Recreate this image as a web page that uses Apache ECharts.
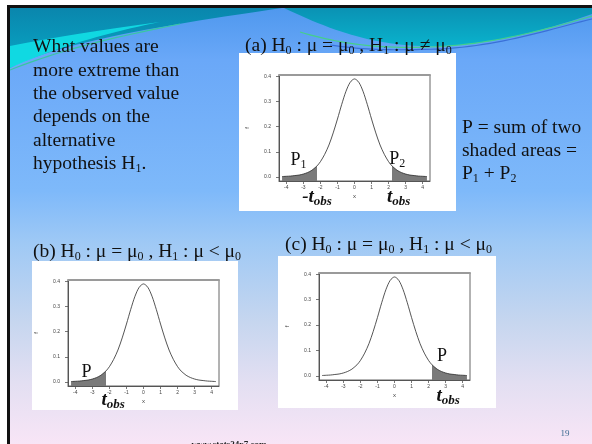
<!DOCTYPE html>
<html>
<head>
<meta charset="utf-8">
<script src="https://cdn.jsdelivr.net/npm/echarts@6/dist/echarts.min.js"></script>
<style>
html, body { margin: 0; padding: 0; background: #fff; }
#chart { width: 592px; height: 444px; }
</style>
</head>
<body>
<div id="chart"></div>
<script>
// Density of the t statistic, used in all three panels
const xValues = [-4.25, -4, -3.75, -3.5, -3.25, -3, -2.75, -2.5, -2.25, -2.2, -2, -1.75, -1.5, -1.25, -1, -0.75, -0.5, -0.25,
  0, 0.25, 0.5, 0.75, 1, 1.25, 1.5, 1.75, 2, 2.2, 2.25, 2.5, 2.75, 3, 3.25, 3.5, 3.75, 4, 4.25];
const densityValues = [0.002, 0.003, 0.004, 0.006, 0.008, 0.012, 0.018, 0.027, 0.041, 0.044, 0.061, 0.090, 0.127, 0.175, 0.230, 0.288, 0.340, 0.376,
  0.389, 0.376, 0.340, 0.288, 0.230, 0.175, 0.127, 0.090, 0.061, 0.044, 0.041, 0.027, 0.018, 0.012, 0.008, 0.006, 0.004, 0.003, 0.002];
const tObs = 2.2;
const xTickValues = [-4, -3, -2, -1, 0, 1, 2, 3, 4];
const yTickValues = [0, 0.1, 0.2, 0.3, 0.4];

const curve = xValues.map((x, i) => [x, densityValues[i]]);
const leftTail = curve.filter(p => p[0] <= -tObs);
const rightTail = curve.filter(p => p[0] >= tObs);

const serif = '"Liberation Serif", "Times New Roman", serif';
const sans = '"Liberation Sans", Arial, sans-serif';
const X_MIN = -4.43, X_MAX = 4.43, Y_MIN = -0.0156, Y_MAX = 0.4046;

const grids = [
  { left: 279, top: 75, width: 151, height: 106 },
  { left: 68, top: 280, width: 151, height: 106 },
  { left: 319, top: 273, width: 151, height: 107 }
];

function xAxisFor(i) {
  return {
    type: 'value', gridIndex: i, min: X_MIN, max: X_MAX,
    axisLine: { show: true, onZero: false, lineStyle: { color: '#555', width: 1 } },
    axisTick: { show: true, customValues: xTickValues, length: 3, inside: false, lineStyle: { color: '#555', width: 0.8 } },
    axisLabel: { customValues: xTickValues, fontSize: 5, color: '#444', margin: 4, fontFamily: sans },
    splitLine: { show: false },
    name: 'x', nameLocation: 'middle', nameGap: 12,
    nameTextStyle: { fontSize: 6, color: '#444', fontFamily: sans }
  };
}
// plain top edge of each plot frame
function topEdgeFor(i) {
  return {
    type: 'value', gridIndex: i, min: X_MIN, max: X_MAX, position: 'top',
    axisLine: { show: true, onZero: false, lineStyle: { color: '#9a9a9a', width: 2 } },
    axisTick: { show: false }, axisLabel: { show: false }, splitLine: { show: false }
  };
}
function yAxisFor(i) {
  return {
    type: 'value', gridIndex: i, min: Y_MIN, max: Y_MAX,
    axisLine: { show: true, onZero: false, lineStyle: { color: '#555', width: 1 } },
    axisTick: { show: true, customValues: yTickValues, length: 3, inside: false, lineStyle: { color: '#555', width: 0.8 } },
    axisLabel: { customValues: yTickValues, fontSize: 5, color: '#444', margin: 8, fontFamily: sans,
      formatter: v => v.toFixed(1) },
    splitLine: { show: false },
    name: 'f', nameLocation: 'middle', nameGap: 29, nameRotate: 90,
    nameTextStyle: { fontSize: 6, color: '#444', fontFamily: sans }
  };
}
function curveSeries(i) {
  return { type: 'line', xAxisIndex: i, yAxisIndex: i, data: curve, smooth: 0.3, symbol: 'none',
    lineStyle: { color: '#2a2a2a', width: 0.8 }, z: 4, silent: true };
}
function tailSeries(i, data) {
  return { type: 'line', xAxisIndex: i, yAxisIndex: i, data: data, smooth: 0.3, symbol: 'none',
    lineStyle: { width: 0 }, areaStyle: { color: '#7a7a7a', opacity: 1, origin: 'start' }, z: 3, silent: true };
}

const chart = echarts.init(document.getElementById('chart'), null, { renderer: 'canvas' });
chart.setOption({
  animation: false,
  grid: grids.map(g => Object.assign({ show: true, borderColor: '#666', borderWidth: 1, backgroundColor: 'transparent' }, g)),
  xAxis: [0, 1, 2].map(xAxisFor).concat([0, 1, 2].map(topEdgeFor)),
  yAxis: [0, 1, 2].map(yAxisFor),
  series: [
    tailSeries(0, leftTail), tailSeries(0, rightTail), curveSeries(0),
    tailSeries(1, leftTail), curveSeries(1),
    tailSeries(2, rightTail), curveSeries(2)
  ]
});

// Rich text styles for the slide text
const bodyRich = {
  n: { fontSize: 19.5, fontFamily: serif, fill: '#111', lineHeight: 22 },
  s: { fontSize: 12, fontFamily: serif, fill: '#111', lineHeight: 8, verticalAlign: 'bottom' }
};
const labelRich = {
  n: { fontSize: 18, fontFamily: serif, fill: '#111', lineHeight: 22 },
  s: { fontSize: 12, fontFamily: serif, fill: '#111', lineHeight: 8, verticalAlign: 'bottom' }
};
const tRich = {
  t: { fontSize: 19, fontFamily: serif, fontWeight: 'bold', fontStyle: 'italic', fill: '#111', lineHeight: 22 },
  o: { fontSize: 13, fontFamily: serif, fontWeight: 'bold', fontStyle: 'italic', fill: '#111', lineHeight: 8, verticalAlign: 'bottom' }
};

function txt(text, x, y, rich, align) {
  return { type: 'text', z: 20, style: { text: text, x: x, y: y, rich: rich, align: align || 'left', verticalAlign: 'middle' } };
}
const px = (g, x, y) => chart.convertToPixel({ gridIndex: g }, [x, y]);

// cubic Bezier sampled into points, for the decorative header sweeps
function bez(p0, p1, p2, p3, n) {
  n = n || 24;
  const pts = [];
  for (let i = 0; i <= n; i++) {
    const t = i / n, u = 1 - t;
    pts.push([
      u * u * u * p0[0] + 3 * u * u * t * p1[0] + 3 * u * t * t * p2[0] + t * t * t * p3[0],
      u * u * u * p0[1] + 3 * u * u * t * p1[1] + 3 * u * t * t * p2[1] + t * t * t * p3[1]
    ]);
  }
  return pts;
}
function lin(c0, c1) {
  return new echarts.graphic.LinearGradient(0, 0, 0, 1, [{ offset: 0, color: c0 }, { offset: 1, color: c1 }]);
}

const background = [
  { type: 'rect', z: -20, shape: { x: 0, y: 0, width: 592, height: 444 }, style: { fill: '#ffffff' } },
  { type: 'rect', z: -19, shape: { x: 10, y: 8, width: 582, height: 436 },
    style: { fill: new echarts.graphic.LinearGradient(0, 0, 0, 1, [
      { offset: 0, color: '#4f98ee' }, { offset: 0.12, color: '#6aa8f8' }, { offset: 0.42, color: '#7eb9fa' },
      { offset: 0.54, color: '#9fc9f5' }, { offset: 0.72, color: '#c6d6ef' }, { offset: 0.86, color: '#e3dff2' },
      { offset: 1, color: '#f8e5f6' }]) } },
  // teal band, left sweep
  { type: 'polygon', z: -18,
    shape: { points: [[10, 8], [282, 8]].concat(bez([282, 8], [200, 20], [60, 40], [10, 68])) },
    style: { fill: lin('#0a86ad', '#08a8c6') } },
  { type: 'polygon', z: -17,
    shape: { points: bez([10, 46], [50, 38], [100, 30], [160, 22]).concat(bez([160, 22], [100, 34], [50, 50], [10, 68])) },
    style: { fill: '#12dfe6', opacity: 0.9 } },
  // teal band, right sweep
  { type: 'polygon', z: -18,
    shape: { points: bez([284, 8], [330, 30], [370, 44], [420, 46]).concat(bez([420, 46], [480, 48], [540, 32], [592, 14]), [[592, 8]]) },
    style: { fill: lin('#0a92b4', '#0ab2cc') } },
  { type: 'polyline', z: -16, shape: { points: bez([10, 70], [60, 50], [110, 38], [180, 24]) },
    style: { fill: null, stroke: '#38c8a0', lineWidth: 1.2 } },
  { type: 'polyline', z: -16,
    shape: { points: bez([300, 32], [340, 44], [380, 49], [430, 47]).concat(bez([430, 47], [490, 45], [545, 30], [592, 16])) },
    style: { fill: null, stroke: '#44d08a', lineWidth: 1.2 } },
  { type: 'polyline', z: -16,
    shape: { points: bez([330, 45], [370, 51], [400, 50], [440, 49]).concat(bez([440, 49], [500, 46], [550, 29], [592, 19])) },
    style: { fill: null, stroke: '#3a70d8', lineWidth: 1.2 } },
  // black frame edges
  { type: 'rect', z: -15, shape: { x: 7, y: 5, width: 585, height: 3 }, style: { fill: '#111' } },
  { type: 'rect', z: -15, shape: { x: 7, y: 5, width: 3, height: 439 }, style: { fill: '#111' } },
  // white panels behind the plots
  { type: 'rect', z: -14, shape: { x: 239, y: 53, width: 217, height: 158 }, style: { fill: '#ffffff' } },
  { type: 'rect', z: -14, shape: { x: 32, y: 261, width: 206, height: 149 }, style: { fill: '#ffffff' } },
  { type: 'rect', z: -14, shape: { x: 278, y: 256, width: 218, height: 152 }, style: { fill: '#ffffff' } }
];

const bottomA = px(0, 0, Y_MIN)[1], bottomB = px(1, 0, Y_MIN)[1], bottomC = px(2, 0, Y_MIN)[1];
const texts = [
  txt('{n|What values are}', 33, 47, bodyRich),
  txt('{n|more extreme than}', 33, 70.5, bodyRich),
  txt('{n|the observed value}', 33, 94, bodyRich),
  txt('{n|depends on the}', 33, 117, bodyRich),
  txt('{n|alternative}', 33, 140.5, bodyRich),
  txt('{n|hypothesis H}{s|1}{n|.}', 33, 164, bodyRich),
  txt('{n|(a) H}{s|0}{n| : μ = μ}{s|0}{n| , H}{s|1}{n| : μ ≠ μ}{s|0}', 245, 46, bodyRich),
  txt('{n|P = sum of two}', 462, 128, bodyRich),
  txt('{n|shaded areas =}', 462, 151, bodyRich),
  txt('{n|P}{s|1}{n| + P}{s|2}', 462, 174, bodyRich),
  txt('{n|(b) H}{s|0}{n| : μ = μ}{s|0}{n| , H}{s|1}{n| : μ < μ}{s|0}', 33, 252, bodyRich),
  txt('{n|(c) H}{s|0}{n| : μ = μ}{s|0}{n| , H}{s|1}{n| : μ < μ}{s|0}', 285, 245, bodyRich),
  // shaded-area and statistic labels
  txt('{n|P}{s|1}', px(0, -3.75, 0.068)[0], px(0, -3.75, 0.068)[1], labelRich),
  txt('{n|P}{s|2}', px(0, 2.04, 0.072)[0], px(0, 2.04, 0.072)[1], labelRich),
  txt('{t|-t}{o|obs}', px(0, -tObs, 0)[0], bottomA + 16, tRich, 'center'),
  txt('{t|t}{o|obs}', px(0, tObs, 0)[0] - 5, bottomA + 16, tRich),
  txt('{n|P}', px(1, -3.64, 0.037)[0], px(1, -3.64, 0.037)[1], labelRich),
  txt('{t|t}{o|obs}', px(1, -tObs, 0)[0] - 4.5, bottomB + 14, tRich),
  txt('{n|P}', px(2, 2.49, 0.078)[0], px(2, 2.49, 0.078)[1], labelRich),
  txt('{t|t}{o|obs}', px(2, tObs, 0)[0] + 4.5, bottomC + 16, tRich),
  // footer
  { type: 'text', z: 20, style: { text: 'www.stats24x7.com', x: 229, y: 445, align: 'center', verticalAlign: 'middle',
    font: 'bold 9px ' + serif, fill: '#222' } },
  { type: 'text', z: 20, style: { text: '19', x: 565, y: 434, align: 'center', verticalAlign: 'middle',
    font: '9px ' + serif, fill: '#3a6a90' } }
];

chart.setOption({ graphic: [{ elements: background.concat(texts) }] });
</script>
</body>
</html>
